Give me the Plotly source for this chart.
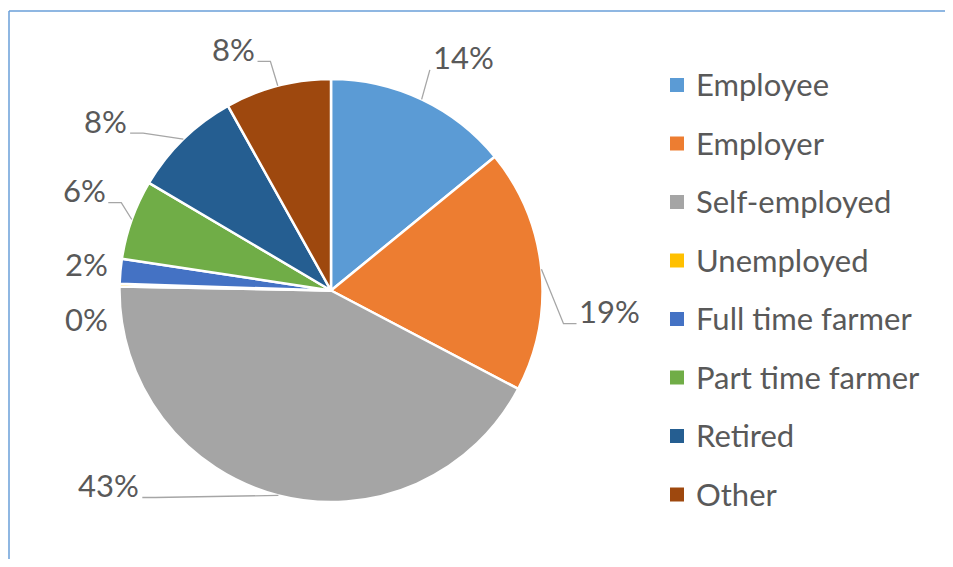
import math
import plotly.graph_objects as go

# ---- data ----
categories = ["Employee", "Employer", "Self-employed", "Unemployed",
              "Full time farmer", "Part time farmer", "Retired", "Other"]
shares = [14.1, 18.6, 42.6, 0.2, 1.9, 6.1, 8.4, 8.1]

# ---- styles ----
colors = ["#5B9BD5", "#ED7D31", "#A5A5A5", "#FFC000",
          "#4472C4", "#70AD47", "#255E91", "#9E480E"]
# label placement: angle shift from slice mid-angle (deg) and radius factor
label_angle_shift = [4.4, 10.4, 34.1, -8.5, 0.5, 2.1, -9.0, -7.6]
label_radius = [1.259, 1.323, 1.402, 1.167, 1.164, 1.257, 1.328, 1.224]

# page body has an 8px margin; figure sized to fill the rest of the window
WIN_W, WIN_H, OFF = 953, 567, 8
W, H = WIN_W - 2 * OFF, WIN_H - 2 * OFF
CX, CY, R = 331.0, 290.5, 211.5   # window pixel coordinates
FONT = "Lato"
TXT = "#595959"
LABEL_SIZE = 31
LEGEND_SIZE = 31


def px(x):
    return (x - OFF) / W


def py(y):
    return 1 - (y - OFF) / H


fig = go.Figure(go.Pie(
    labels=categories, values=shares, sort=False, direction="clockwise",
    rotation=0, marker=dict(colors=colors, line=dict(color="white", width=2.5)),
    textinfo="none", hoverinfo="label+percent", showlegend=False,
    domain=dict(x=[px(CX - R), px(CX + R)], y=[py(CY + R), py(CY - R)]),
))

shapes = []
annotations = []
total = sum(shares)
cum = 0.0
for i, v in enumerate(shares):
    mid = (cum + v / 2) / total * 360.0
    cum += v
    ex = CX + R * math.sin(math.radians(mid))
    ey = CY - R * math.cos(math.radians(mid))
    ang = mid + label_angle_shift[i]
    lx = CX + R * label_radius[i] * math.sin(math.radians(ang))
    ly = CY - R * label_radius[i] * math.cos(math.radians(ang))
    right_side = lx > CX
    text = f"{round(v / total * 100):d}%"
    annotations.append(dict(
        x=px(lx), y=py(ly - 2), xref="paper", yref="paper", text=text,
        showarrow=False, xanchor="center", yanchor="middle",
        font=dict(family=FONT, size=LABEL_SIZE, color=TXT)))
    if label_radius[i] > 1.2:
        half = 0.62 * LABEL_SIZE * len(text) / 2 * 0.95
        ax = lx - half - 6 if right_side else lx + half + 6
        ay = ly + 10.5
        dxe = abs(ex - ax)
        dye = abs(ey - ay)
        hseg = min(13.0, max(0.0, dxe - 0.3 * dye))
        bx = ax - hseg if right_side else ax + hseg
        path = f"M {px(ax)},{py(ay)} L {px(bx)},{py(ay)} L {px(ex)},{py(ey)}"
        shapes.append(dict(type="path", xref="paper", yref="paper", path=path,
                           line=dict(color="#A6A6A6", width=1.3)))

# manual legend
LEG_X = 677
LEG_Y0 = 85
LEG_STEP = 58.5
for i, name in enumerate(categories):
    yc = LEG_Y0 + i * LEG_STEP
    shapes.append(dict(type="rect", xref="paper", yref="paper",
                       x0=px(LEG_X - 7), x1=px(LEG_X + 7),
                       y0=py(yc + 7), y1=py(yc - 7),
                       fillcolor=colors[i], line=dict(width=0)))
    annotations.append(dict(
        x=px(LEG_X + 17), y=py(yc - 1), xref="paper", yref="paper", text=name,
        showarrow=False, xanchor="left", yanchor="middle",
        font=dict(family=FONT, size=LEGEND_SIZE, color=TXT)))

# chart frame: only top and left edges are visible in the window
FRAME = dict(color="#6A9FD8", width=1.5)
shapes.append(dict(type="line", xref="paper", yref="paper",
                   x0=px(9), x1=1.0, y0=py(11), y1=py(11), line=FRAME))
shapes.append(dict(type="line", xref="paper", yref="paper",
                   x0=px(9), x1=px(9), y0=py(11), y1=0.0, line=FRAME))

fig.update_layout(
    width=W, height=H, autosize=False,
    margin=dict(l=0, r=0, t=0, b=0),
    paper_bgcolor="white", plot_bgcolor="white",
    shapes=shapes, annotations=annotations,
)
fig.write_html("out.html")
